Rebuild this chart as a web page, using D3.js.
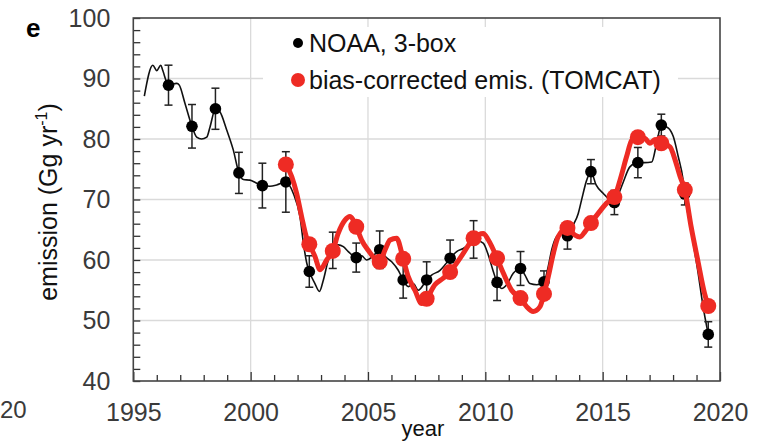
<!DOCTYPE html>
<html>
<head>
<meta charset="utf-8">
<script src="https://cdn.jsdelivr.net/npm/d3@7"></script>
<style>
  body { margin: 0; background: #fff; }
  svg { display: block; font-family: "Liberation Sans", Arial, sans-serif; }
</style>
</head>
<body>
<script>
// NOAA 3-box annual estimates (mid-year) with error bars
const noaaYears = [1996.5, 1997.5, 1998.5, 1999.5, 2000.5, 2001.5, 2002.5, 2003.5, 2004.5, 2005.5, 2006.5, 2007.5,
  2008.5, 2009.5, 2010.5, 2011.5, 2012.5, 2013.5, 2014.5, 2015.5, 2016.5, 2017.5, 2018.5, 2019.5];
const noaaValues = [88.9, 82.1, 85.0, 74.4, 72.3, 72.9, 58.1, 61.6, 60.4, 61.7, 56.7, 56.7,
  60.3, 63.4, 56.3, 58.6, 56.4, 64.0, 74.6, 69.5, 76.1, 82.3, 70.9, 47.7];
const noaaErrors = [3.3, 3.6, 3.4, 3.4, 3.7, 5.0, 2.6, 3.0, 2.4, 3.1, 3.0, 3.0,
  3.0, 3.1, 3.0, 2.8, 1.8, 2.2, 2.0, 2.0, 2.5, 1.8, 1.8, 2.1];

// NOAA thin black curve
const noaaCurveYears = [1995.47, 1995.83, 1996.0, 1996.17, 1996.25, 1996.5, 1996.85, 1996.96, 1997.2, 1997.5,
  1997.7, 1997.91, 1998.13, 1998.27, 1998.5, 1998.69, 1998.98, 1999.26, 1999.5, 1999.69, 1999.97, 2000.26,
  2000.5, 2000.82, 2001.11, 2001.5, 2001.82, 2002.1, 2002.27, 2002.39, 2002.5, 2002.74, 2002.93, 2003.1,
  2003.31, 2003.5, 2003.73, 2003.95, 2004.16, 2004.5, 2004.73, 2004.94, 2005.23, 2005.5, 2005.73, 2006.01,
  2006.29, 2006.5, 2006.72, 2006.93, 2007.14, 2007.5, 2007.71, 2008.07, 2008.28, 2008.5, 2008.78, 2009.06,
  2009.35, 2009.5, 2009.91, 2010.13, 2010.34, 2010.5, 2010.7, 2010.91, 2011.19, 2011.5, 2011.69, 2011.9,
  2012.19, 2012.5, 2012.68, 2012.83, 2013.04, 2013.25, 2013.5, 2013.75, 2013.96, 2014.1, 2014.32, 2014.5,
  2014.72, 2015.03, 2015.31, 2015.5, 2015.66, 2015.88, 2016.16, 2016.5, 2016.78, 2017.09, 2017.3, 2017.5,
  2017.8, 2018.01, 2018.22, 2018.43, 2018.5, 2018.79, 2019.07, 2019.28, 2019.5];
const noaaCurveValues = [87.1, 92.2, 91.3, 92.2, 91.4, 88.9, 89.2, 88.9, 85.9, 82.1,
  80.3, 80.0, 80.3, 82.0, 85.0, 84.5, 81.5, 78.2, 74.4, 73.3, 73.2, 72.7,
  72.3, 72.2, 72.4, 72.9, 71.0, 67.2, 62.2, 59.5, 58.1, 56.1, 54.8, 56.7,
  60.0, 61.6, 62.5, 62.2, 61.4, 60.4, 60.7, 60.0, 60.7, 61.7, 60.6, 59.7,
  58.3, 56.7, 55.6, 56.1, 55.0, 56.7, 57.5, 58.3, 59.2, 60.3, 61.4, 61.9,
  62.8, 63.4, 62.8, 60.8, 58.1, 56.3, 55.3, 55.9, 57.8, 58.6, 57.5, 56.1,
  55.9, 56.4, 58.9, 61.7, 63.9, 64.4, 64.0, 65.8, 67.7, 69.9, 73.2, 74.6,
  72.4, 71.0, 69.9, 69.5, 70.7, 72.9, 75.4, 76.1, 76.1, 76.2, 79.3, 82.3,
  81.8, 80.4, 77.1, 73.2, 70.9, 64.4, 57.8, 52.3, 47.7];

// bias-corrected emissions (TOMCAT), annual points
const tomcatYears = [2001.5, 2002.5, 2003.5, 2004.5, 2005.5, 2006.5, 2007.5, 2008.5, 2009.5, 2010.5,
  2011.5, 2012.5, 2013.5, 2014.5, 2015.5, 2016.5, 2017.5, 2018.5, 2019.5];
const tomcatValues = [75.8, 62.6, 61.5, 65.5, 59.7, 60.2, 53.6, 58.0, 63.6, 60.3,
  53.7, 54.4, 65.3, 66.1, 70.4, 80.3, 79.3, 71.6, 52.4];

// TOMCAT thick red curve
const tomcatCurveYears = [2001.5, 2001.75, 2001.96, 2002.17, 2002.39, 2002.5, 2002.74, 2002.96, 2003.24, 2003.5,
  2003.73, 2004.02, 2004.23, 2004.5, 2004.73, 2005.01, 2005.5, 2005.73, 2005.94, 2006.22, 2006.5, 2006.72,
  2007.0, 2007.29, 2007.5, 2007.85, 2008.21, 2008.5, 2008.78, 2009.06, 2009.5, 2009.91, 2010.13, 2010.5,
  2010.77, 2011.12, 2011.5, 2011.76, 2012.04, 2012.33, 2012.5, 2012.68, 2012.9, 2013.11, 2013.5, 2013.82,
  2014.03, 2014.25, 2014.5, 2014.81, 2015.17, 2015.5, 2015.74, 2016.02, 2016.24, 2016.5, 2016.8, 2017.01,
  2017.23, 2017.5, 2017.87, 2018.09, 2018.3, 2018.5, 2018.77, 2019.05, 2019.34, 2019.5];
const tomcatCurveValues = [75.8, 73.8, 71.0, 67.2, 63.6, 62.6, 60.6, 58.4, 60.0, 61.5,
  64.4, 66.6, 67.2, 65.5, 63.3, 61.6, 59.7, 61.7, 63.3, 63.6, 60.2, 57.2,
  55.0, 52.8, 53.6, 55.9, 57.0, 58.0, 59.5, 61.1, 63.6, 64.4, 63.3, 60.3,
  57.8, 55.0, 53.7, 52.3, 51.5, 52.3, 54.4, 57.2, 61.1, 63.9, 65.3, 64.1,
  63.8, 64.7, 66.1, 67.7, 69.4, 70.4, 73.2, 77.1, 79.8, 80.3, 80.1, 79.3,
  79.9, 79.3, 78.7, 76.5, 73.8, 71.6, 65.5, 60.0, 54.5, 52.4];

const yTicks = [40, 50, 60, 70, 80, 90, 100];
const xTicks = [1995, 2000, 2005, 2010, 2015, 2020];
const legendLabels = ["NOAA, 3-box", "bias-corrected emis. (TOMCAT)"];

const w = 774;
const h = 443;
const m = { left: 133.3, right: 720, top: 18, bottom: 381 };
const red = "#ee2b24";

const x = d3.scaleLinear().domain([1995, 2020]).range([m.left, m.right]);
const y = d3.scaleLinear().domain([40, 100]).range([m.bottom, m.top]);

const svg = d3.select("body").append("svg")
  .attr("width", w)
  .attr("height", h);

// gridlines
svg.append("g").selectAll("line")
  .data(yTicks.slice(1, -1))
  .enter().append("line")
  .attr("x1", m.left).attr("x2", m.right)
  .attr("y1", d => y(d)).attr("y2", d => y(d))
  .attr("stroke", "#dadada").attr("stroke-width", 1.3);

svg.append("g").selectAll("line")
  .data(xTicks.slice(1, -1))
  .enter().append("line")
  .attr("y1", m.top).attr("y2", m.bottom)
  .attr("x1", d => x(d)).attr("x2", d => x(d))
  .attr("stroke", "#dadada").attr("stroke-width", 1.3);

// legend background hides the grid
svg.append("rect")
  .attr("x", 263).attr("y", 27)
  .attr("width", 415).attr("height", 70)
  .attr("fill", "#fff");

// axes
const yAxis = d3.axisLeft(y)
  .tickValues(d3.range(40, 101, 2))
  .tickSize(-7)
  .tickPadding(23)
  .tickFormat(d => d % 10 === 0 ? d : "");

const xAxis = d3.axisBottom(x)
  .tickValues(d3.range(1995, 2021, 1))
  .tickSize(-6)
  .tickPadding(22)
  .tickFormat(d => d % 5 === 0 ? d : "");

const gy = svg.append("g")
  .attr("transform", "translate(" + m.left + ",0)")
  .call(yAxis);
const gx = svg.append("g")
  .attr("transform", "translate(0," + m.bottom + ")")
  .call(xAxis);

[gx, gy].forEach(g => {
  g.select(".domain").remove();
  g.selectAll(".tick line").attr("stroke", "#333").attr("stroke-width", 1.3);
  g.selectAll(".tick text")
    .attr("font-size", 25)
    .attr("fill", "#3a3a3a")
    .attr("font-family", "'Liberation Sans', Arial, sans-serif");
});
gx.selectAll(".tick line").filter(d => d % 5 === 0).attr("y2", -9);

// frame
svg.append("rect")
  .attr("x", m.left).attr("y", m.top)
  .attr("width", m.right - m.left).attr("height", m.bottom - m.top)
  .attr("fill", "none")
  .attr("stroke", "#444")
  .attr("stroke-width", 1.6);

// NOAA curve
const noaaCurve = noaaCurveYears.map((d, i) => [d, noaaCurveValues[i]]);
const line = d3.line()
  .x(d => x(d[0]))
  .y(d => y(d[1]))
  .curve(d3.curveMonotoneX);

svg.append("path")
  .datum(noaaCurve)
  .attr("d", line)
  .attr("fill", "none")
  .attr("stroke", "#111")
  .attr("stroke-width", 1.6);

// error bars
const bars = svg.append("g")
  .attr("stroke", "#222")
  .attr("stroke-width", 1.5);
noaaYears.forEach((yr, i) => {
  const cx = x(yr);
  const hi = y(noaaValues[i] + noaaErrors[i]);
  const lo = y(noaaValues[i] - noaaErrors[i]);
  bars.append("line").attr("x1", cx).attr("x2", cx).attr("y1", hi).attr("y2", lo);
  bars.append("line").attr("x1", cx - 4).attr("x2", cx + 4).attr("y1", hi).attr("y2", hi);
  bars.append("line").attr("x1", cx - 4).attr("x2", cx + 4).attr("y1", lo).attr("y2", lo);
});

svg.append("g").selectAll("circle")
  .data(noaaYears)
  .enter().append("circle")
  .attr("cx", d => x(d))
  .attr("cy", (d, i) => y(noaaValues[i]))
  .attr("r", 5.8)
  .attr("fill", "#000");

// TOMCAT curve
const tomcatCurve = tomcatCurveYears.map((d, i) => [d, tomcatCurveValues[i]]);
svg.append("path")
  .datum(tomcatCurve)
  .attr("d", line)
  .attr("fill", "none")
  .attr("stroke", red)
  .attr("stroke-width", 5)
  .attr("stroke-linejoin", "round");

svg.append("g").selectAll("circle")
  .data(tomcatYears)
  .enter().append("circle")
  .attr("cx", d => x(d))
  .attr("cy", (d, i) => y(tomcatValues[i]))
  .attr("r", 8)
  .attr("fill", red);

// legend
svg.append("circle").attr("cx", 298).attr("cy", 43).attr("r", 5).attr("fill", "#000");
svg.append("circle").attr("cx", 298).attr("cy", 80).attr("r", 7).attr("fill", red);
svg.append("text").attr("x", 309).attr("y", 52).attr("font-size", 25).attr("fill", "#111").text(legendLabels[0]);
svg.append("text").attr("x", 309).attr("y", 89).attr("font-size", 25).attr("fill", "#111").text(legendLabels[1]);

// axis titles
const yl = svg.append("text")
  .attr("transform", "translate(57,202) rotate(-90)")
  .attr("text-anchor", "middle")
  .attr("font-size", 25)
  .attr("fill", "#111");
yl.append("tspan").text("emission (Gg yr");
yl.append("tspan").attr("font-size", 16).attr("dy", -10).text("-1");
yl.append("tspan").attr("dy", 10).text(")");

svg.append("text")
  .attr("x", 423).attr("y", 436)
  .attr("text-anchor", "middle")
  .attr("font-size", 22)
  .attr("fill", "#111")
  .text("year");

// panel letter and neighbouring panel remnant
svg.append("text")
  .attr("x", 26).attr("y", 37)
  .attr("font-size", 26)
  .attr("font-weight", "bold")
  .text("e");

svg.append("text")
  .attr("x", 0).attr("y", 418)
  .attr("font-size", 24)
  .attr("fill", "#3a3a3a")
  .text("20");
</script>
</body>
</html>
